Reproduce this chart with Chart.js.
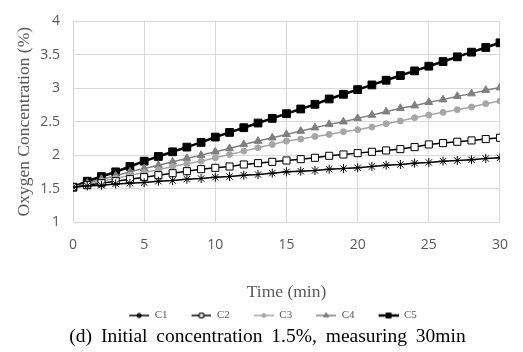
<!DOCTYPE html>
<html>
<head>
<meta charset="utf-8">
<script src="https://cdn.jsdelivr.net/npm/chart.js@4.4.1/dist/chart.umd.min.js"></script>
<style>
  html, body { margin: 0; padding: 0; background: #fff; }
  #wrap { position: relative; width: 523px; height: 352px; }
  #box { position: absolute; left: 0; top: 0; width: 523px; height: 352px; }
  #caption {
    position: absolute; left: 6px; top: 325px; width: 523px; text-align: center;
    font-family: "Liberation Serif", serif; font-size: 19.5px; color: #000; word-spacing: 4px;
  }
</style>
</head>
<body>
<div id="wrap">
  <div id="box"><canvas id="graph"></canvas></div>
  <div id="caption">(d) Initial concentration 1.5%, measuring 30min</div>
</div>
<script>
// minutes
const times = [0,1,2,3,4,5,6,7,8,9,10,11,12,13,14,15,16,17,18,19,20,21,22,23,24,25,26,27,28,29,30];

const c1 = [1.52,1.54,1.55,1.57,1.58,1.59,1.61,1.62,1.64,1.65,1.67,1.68,1.70,1.71,1.73,1.75,1.76,1.77,1.79,1.80,1.81,1.83,1.85,1.86,1.88,1.89,1.91,1.92,1.93,1.95,1.96];
const c2 = [1.52,1.55,1.58,1.61,1.64,1.67,1.70,1.73,1.76,1.79,1.81,1.83,1.86,1.88,1.90,1.92,1.94,1.96,1.99,2.01,2.03,2.05,2.07,2.09,2.12,2.16,2.18,2.20,2.22,2.24,2.26];
const c3 = [1.52,1.56,1.61,1.65,1.70,1.74,1.78,1.83,1.87,1.91,1.96,2.01,2.06,2.11,2.16,2.21,2.24,2.28,2.31,2.35,2.38,2.42,2.47,2.51,2.56,2.60,2.64,2.68,2.72,2.77,2.81];
const c4 = [1.52,1.58,1.64,1.69,1.75,1.80,1.85,1.90,1.95,2.00,2.05,2.10,2.16,2.21,2.26,2.31,2.36,2.41,2.46,2.50,2.55,2.60,2.65,2.70,2.74,2.79,2.83,2.88,2.92,2.97,3.01];
const c5 = [1.52,1.61,1.68,1.75,1.83,1.91,1.98,2.05,2.12,2.19,2.27,2.34,2.41,2.48,2.55,2.62,2.69,2.76,2.84,2.91,2.98,3.05,3.12,3.19,3.26,3.33,3.40,3.47,3.54,3.61,3.68];

const seriesNames = ['C1', 'C2', 'C3', 'C4', 'C5'];
const seriesValues = [c1, c2, c3, c4, c5];

const xTitle = 'Time (min)';
const yTitle = 'Oxygen Concentration (%)';

const styles = [
    { line: '#000000', fill: '#000000', point: 'star', radius: 4.5, width: 1.5 },
    { line: '#000000', fill: '#ffffff', point: 'rect', radius: 5, width: 1.5 },
    { line: '#a6a6a6', fill: '#a6a6a6', point: 'circle', radius: 3, width: 1.5 },
    { line: '#7f7f7f', fill: '#7f7f7f', point: 'triangle', radius: 4.5, width: 1.5 },
    { line: '#000000', fill: '#000000', point: 'rect', radius: 5.5, width: 2.5 },
];

// legend picture: blank on the left, then line + marker (keeps items spread out like the original)
const ICON_W = 42;
function legendIcon(st) {
    const c = document.createElement('canvas');
    c.width = ICON_W; c.height = 10;
    const g = c.getContext('2d');
    g.strokeStyle = st.line;
    g.lineWidth = st.width;
    g.beginPath(); g.moveTo(ICON_W - 20, 5); g.lineTo(ICON_W, 5); g.stroke();
    g.fillStyle = st.fill;
    g.lineWidth = 1;
    Chart.helpers.drawPoint(g, { pointStyle: st.point, radius: st.radius * 0.6, rotation: 0, borderWidth: 1 }, ICON_W - 10, 5);
    if (st.point !== 'star') g.fill();
    g.stroke();
    return c;
}

// nudge the legend a bit to the right, the original is not centred on the canvas
const legendShift = {
    id: 'legendShift',
    afterLayout(chart) {
        chart.legend.left += 12;
        chart.legend.right += 12;
    }
};

const graph = document.getElementById('graph').getContext('2d');

const datasets = seriesNames.map((name, i) => {
    const st = styles[i];
    return {
        label: name,
        data: times.map((t, j) => ({ x: t, y: seriesValues[i][j] })),
        borderColor: st.line,
        backgroundColor: st.fill,
        borderWidth: st.width,
        pointStyle: st.point,
        pointRadius: st.radius,
        pointBorderColor: st.line,
        pointBackgroundColor: st.fill,
        pointBorderWidth: 1,
        tension: 0,
    };
});

const graphChart = new Chart(graph, {
    type: 'line',
    data: { datasets: datasets },
    plugins: [legendShift],
    options: {
        responsive: true,
        maintainAspectRatio: false,
        animation: false,
        layout: { padding: { top: 4, right: 23, left: 0, bottom: 21 } },
        plugins: {
            tooltip: { enabled: false },
            legend: {
                position: 'bottom',
                labels: {
                    usePointStyle: true,
                    pointStyleWidth: ICON_W,
                    boxHeight: 10,
                    padding: 2,
                    color: '#595959',
                    font: { family: 'Liberation Serif', size: 11 },
                    generateLabels: (chart) => chart.data.datasets.map((ds, i) => ({
                        text: ds.label,
                        pointStyle: legendIcon(styles[i]),
                        fillStyle: ds.backgroundColor,
                        strokeStyle: ds.borderColor,
                        fontColor: '#595959',
                        lineWidth: 0,
                        hidden: false,
                        datasetIndex: i,
                    })),
                },
            },
        },
        scales: {
            x: {
                type: 'linear',
                min: 0,
                max: 30,
                afterFit: (scale) => { scale.height = 86; },
                ticks: {
                    stepSize: 5,
                    padding: 15,
                    color: '#595959',
                    font: { family: 'Open Sans', size: 14 },
                },
                grid: { color: '#d9d9d9', drawTicks: false },
                border: { color: '#d9d9d9' },
                title: {
                    display: true,
                    text: xTitle,
                    color: '#595959',
                    padding: { top: 4, bottom: 5 },
                    font: { family: 'Liberation Serif', size: 17.5 },
                },
            },
            y: {
                min: 1,
                max: 4,
                afterFit: (scale) => { scale.width = 73; },
                ticks: {
                    stepSize: 0.5,
                    padding: 13,
                    color: '#595959',
                    font: { family: 'Open Sans', size: 14 },
                    callback: (v) => String(v),
                },
                grid: { color: '#d9d9d9', drawTicks: false },
                border: { color: '#d9d9d9' },
                title: {
                    display: true,
                    text: yTitle,
                    color: '#595959',
                    padding: { top: 14, bottom: 0 },
                    font: { family: 'Liberation Serif', size: 17.5 },
                },
            },
        },
    },
});
</script>
</body>
</html>
